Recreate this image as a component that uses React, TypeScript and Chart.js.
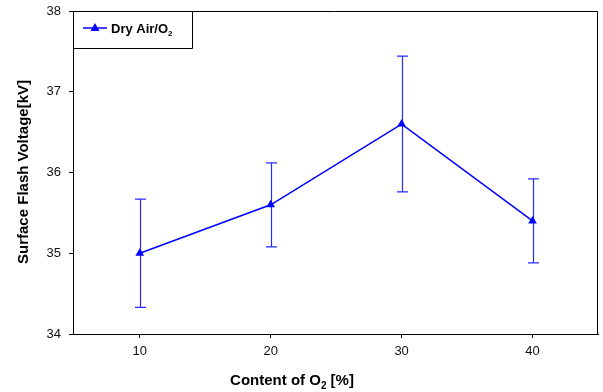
import React, { useEffect, useRef } from "react";
import { Chart, registerables } from "chart.js";

Chart.register(...registerables);

const categories = [10, 20, 30, 40];
const voltage = [35.0, 35.6, 36.6, 35.4];
const errors = [0.67, 0.52, 0.84, 0.52];
const xTicks = [10, 20, 30, 40];
const seriesLabel = "Dry Air/O";
const FONT = "'Liberation Sans', Arial, sans-serif";
const BLUE = "#0000ff";

function drawSubText(ctx: CanvasRenderingContext2D, parts: [string, boolean][], x: number, y: number, size: number, align: "center" | "left") {
  const subSize = Math.round(size * 0.65);
  let total = 0;
  const widths = parts.map(([t, sub]) => {
    ctx.font = `bold ${sub ? subSize : size}px ${FONT}`;
    const w = ctx.measureText(t).width;
    total += w;
    return w;
  });
  let cx = align === "center" ? x - total / 2 : x;
  ctx.textBaseline = "alphabetic";
  ctx.textAlign = "left";
  parts.forEach(([t, sub], i) => {
    ctx.font = `bold ${sub ? subSize : size}px ${FONT}`;
    ctx.fillText(t, cx, sub ? y + size * 0.25 : y);
    cx += widths[i];
  });
}

const zeroPad = (axis: any) => {
  axis.paddingTop = 0;
  axis.paddingBottom = 0;
  axis.paddingLeft = 0;
  axis.paddingRight = 0;
};

const decorPlugin = {
  id: "decor",
  beforeDatasetsDraw(chart: any) {
    const ctx = chart.ctx;
    const xs = chart.scales.x;
    const ys = chart.scales.y;
    ctx.save();
    ctx.strokeStyle = "#2a2aff";
    ctx.lineWidth = 1.2;
    categories.forEach((c, i) => {
      const px = Math.round(xs.getPixelForValue(c)) + 0.5;
      const top = ys.getPixelForValue(voltage[i] + errors[i]);
      const bot = ys.getPixelForValue(voltage[i] - errors[i]);
      ctx.beginPath();
      ctx.moveTo(px, top);
      ctx.lineTo(px, bot);
      ctx.moveTo(px - 5.5, top);
      ctx.lineTo(px + 5.5, top);
      ctx.moveTo(px - 5.5, bot);
      ctx.lineTo(px + 5.5, bot);
      ctx.stroke();
    });
    ctx.restore();
  },
  afterDraw(chart: any) {
    const ctx = chart.ctx;
    const a = chart.chartArea;
    ctx.save();
    ctx.strokeStyle = "#000";
    ctx.lineWidth = 1;
    ctx.beginPath();
    ctx.moveTo(a.left, a.top + 0.5);
    ctx.lineTo(a.right - 0.5, a.top + 0.5);
    ctx.lineTo(a.right - 0.5, a.bottom);
    ctx.stroke();
    // legend box
    const lx = a.left, ly = a.top;
    ctx.beginPath();
    ctx.rect(lx + 0.5, ly + 0.5, 119, 37);
    ctx.stroke();
    ctx.strokeStyle = BLUE;
    ctx.fillStyle = BLUE;
    ctx.lineWidth = 1.5;
    const my = ly + 17;
    ctx.beginPath();
    ctx.moveTo(lx + 10, my);
    ctx.lineTo(lx + 34, my);
    ctx.stroke();
    ctx.beginPath();
    ctx.moveTo(lx + 22, my - 5);
    ctx.lineTo(lx + 26.5, my + 3);
    ctx.lineTo(lx + 17.5, my + 3);
    ctx.closePath();
    ctx.fill();
    ctx.fillStyle = "#000";
    drawSubText(ctx, [[seriesLabel, false], ["2", true]], lx + 38, my + 5, 13, "left");
    // x title
    drawSubText(ctx, [["Content of O", false], ["2", true], [" [%]", false]], 292, 385, 15, "center");
    // y title
    ctx.translate(22, 172);
    ctx.rotate(-Math.PI / 2);
    drawSubText(ctx, [["Surface Flash Voltage[kV]", false]], 0, 5.5, 15, "center");
    ctx.restore();
  },
};

export default function App() {
  const ref = useRef<HTMLCanvasElement>(null);
  useEffect(() => {
    if (!ref.current) return;
    const chart = new Chart(ref.current, {
      type: "line",
      data: {
        datasets: [
          {
            label: "Dry Air/O₂",
            data: categories.map((c, i) => ({ x: c, y: voltage[i] })),
            borderColor: BLUE,
            backgroundColor: BLUE,
            borderWidth: 1.5,
            pointStyle: "triangle",
            pointRadius: 5,
            pointBorderWidth: 0,
            tension: 0,
          },
        ],
      },
      options: {
        animation: false,
        responsive: false,
        layout: { padding: { top: 11, right: 2, left: 0, bottom: 0 } },
        plugins: { legend: { display: false }, tooltip: { enabled: false } },
        scales: {
          x: {
            type: "linear",
            min: 4.9,
            max: 45,
            afterBuildTicks: (axis: any) => {
              axis.ticks = xTicks.map((v) => ({ value: v }));
            },
            afterFit: (axis: any) => {
              axis.height = 58;
              zeroPad(axis);
            },
            grid: { display: true, drawOnChartArea: false, tickLength: 4, color: "#000" },
            border: { display: true, color: "#000", width: 1 },
            ticks: { color: "#111", font: { family: FONT, size: 13 }, padding: 6, maxRotation: 0 },
          },
          y: {
            min: 34,
            max: 38,
            ticks: { stepSize: 1, color: "#111", font: { family: FONT, size: 13 }, padding: 8 },
            afterFit: (axis: any) => {
              axis.width = 73;
              zeroPad(axis);
            },
            grid: { display: true, drawOnChartArea: false, tickLength: 4, color: "#000" },
            border: { display: true, color: "#000", width: 1 },
          },
        },
      },
      plugins: [decorPlugin],
    });
    return () => chart.destroy();
  }, []);
  return (
    <div style={{ position: "absolute", left: 0, top: 0, width: 603, height: 392, background: "#fff" }}>
      <canvas ref={ref} width={603} height={392} />
    </div>
  );
}
